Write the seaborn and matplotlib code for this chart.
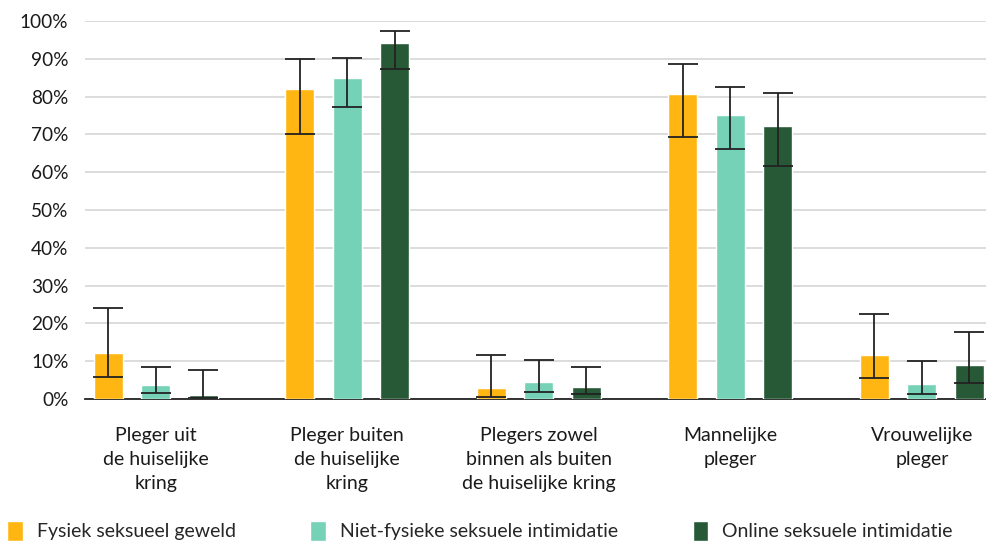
import numpy as np
import pandas as pd
import matplotlib
matplotlib.use("Agg")
import matplotlib.pyplot as plt
import seaborn as sns
from matplotlib.ticker import PercentFormatter

# ---------------------------------------------------------------
# data (percentages)
# ---------------------------------------------------------------
categories = [
    "Pleger uit\nde huiselijke\nkring",
    "Pleger buiten\nde huiselijke\nkring",
    "Plegers zowel\nbinnen als buiten\nde huiselijke kring",
    "Mannelijke\npleger",
    "Vrouwelijke\npleger",
]
series = ["Fysiek seksueel geweld", "Niet-fysieke seksuele intimidatie",
          "Online seksuele intimidatie"]

fysiek = [12.2, 81.9, 2.9, 80.7, 11.6]
fysiek_lo = [5.7, 70.0, 0.6, 69.4, 5.6]
fysiek_hi = [24.1, 90.0, 11.6, 88.7, 22.6]

niet_fysiek = [3.7, 84.9, 4.5, 75.1, 4.0]
niet_fysiek_lo = [1.6, 77.2, 1.9, 66.1, 1.4]
niet_fysiek_hi = [8.4, 90.3, 10.3, 82.5, 10.0]

online = [1.1, 94.2, 3.2, 72.2, 9.0]
online_lo = [0.3, 87.3, 1.2, 61.7, 4.3]
online_hi = [7.6, 97.4, 8.6, 80.9, 17.8]

colors = ["#FFB612", "#76D2B6", "#275937"]

values = [fysiek, niet_fysiek, online]
lows = [fysiek_lo, niet_fysiek_lo, online_lo]
highs = [fysiek_hi, niet_fysiek_hi, online_hi]

df = pd.DataFrame({
    "categorie": categories * 3,
    "reeks": np.repeat(series, len(categories)),
    "waarde": fysiek + niet_fysiek + online,
})

# ---------------------------------------------------------------
# plot
# ---------------------------------------------------------------
sns.set_theme(style="white")
plt.rcParams["font.family"] = ["Lato", "DejaVu Sans"]

fig = plt.figure(figsize=(9.87, 5.44), dpi=100)
ax = fig.add_axes([0.0861, 0.2665, 0.9139, 0.6949])

sns.barplot(data=df, x="categorie", y="waarde", hue="reeks",
            palette=colors, width=0.745, gap=0.39, errorbar=None,
            saturation=1, ax=ax, zorder=3)

# confidence intervals
for cont, val, lo, hi in zip(ax.containers, values, lows, highs):
    xs = [p.get_x() + p.get_width() / 2 for p in cont.patches]
    v = np.array(val)
    err = [v - np.array(lo), np.array(hi) - v]
    ax.errorbar(xs, v, yerr=err, fmt="none", ecolor="#222222",
                elinewidth=1.3, capsize=10.5, capthick=1.3, zorder=4)

ax.set_ylim(0, 100)
ax.set_xlim(-0.37, 4.34)
ax.set_yticks(range(0, 101, 10))
ax.yaxis.set_major_formatter(PercentFormatter(decimals=0))
ax.grid(axis="y", color="#dcdcdc", linewidth=1.4, zorder=0)
ax.set_axisbelow(True)
ax.set_xlabel("")
ax.set_ylabel("")
for s in ["top", "right", "left"]:
    ax.spines[s].set_visible(False)
ax.spines["bottom"].set_color("#222222")
ax.spines["bottom"].set_linewidth(1.3)
ax.tick_params(axis="y", length=0, pad=12, labelsize=13.7, labelcolor="#1a1a1a")
ax.tick_params(axis="x", length=0, pad=20, labelsize=14, labelcolor="#1a1a1a")
for lbl in ax.get_xticklabels():
    lbl.set_linespacing(1.5)

sns.move_legend(ax, "lower left", bbox_to_anchor=(-0.086, -0.375),
                ncol=3, frameon=False, title=None, fontsize=14,
                handlelength=0.8, handleheight=1.2, handletextpad=0.7,
                columnspacing=3.85, borderaxespad=0, borderpad=0)

fig.savefig("out.png", dpi=100)
